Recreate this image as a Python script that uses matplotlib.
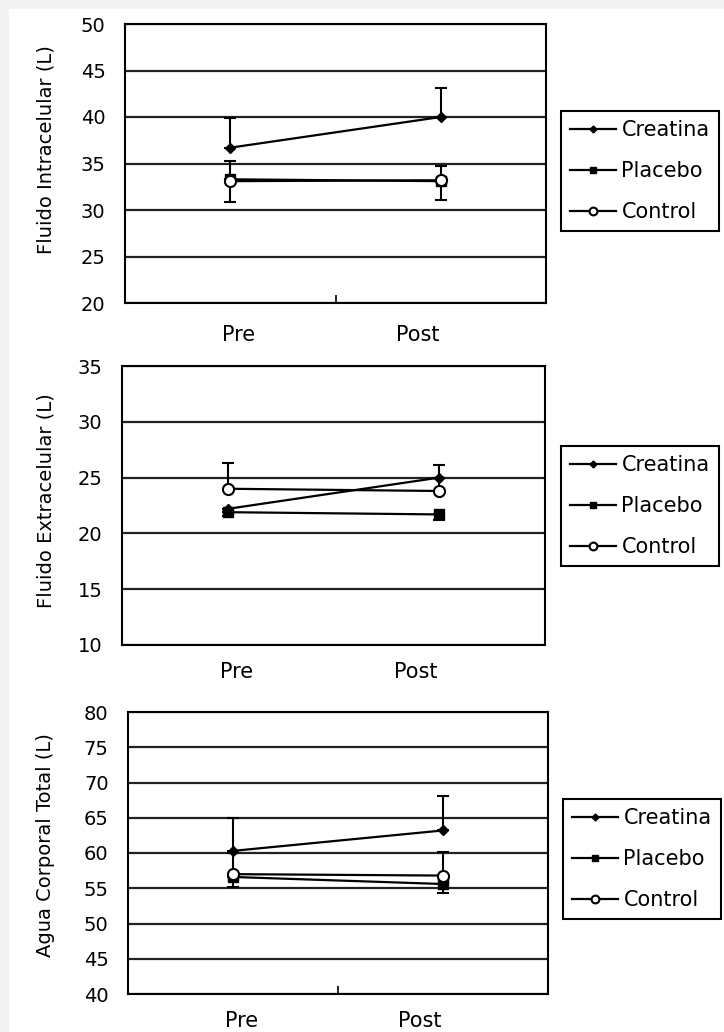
import matplotlib
matplotlib.use('Agg')
import matplotlib.pyplot as plt
from matplotlib.patches import Rectangle

plt.rcParams['font.family'] = ['DejaVu Sans']

# datos (L), Pre / Post
momentos = ['Pre', 'Post']
grupos = ['Creatina', 'Placebo', 'Control']

intra_creatina = [36.7, 40.0]
intra_placebo = [33.3, 33.1]
intra_control = [33.1, 33.2]
intra_err_creatina = [3.2, 3.1]   # solo hacia arriba
intra_err_placebo = [2.0, 1.6]    # solo hacia arriba
intra_err_control = [2.2, 2.1]    # solo hacia abajo

extra_creatina = [22.2, 25.0]
extra_placebo = [21.9, 21.7]
extra_control = [24.0, 23.8]
extra_err_creatina = [0.0, 0.0]
extra_err_placebo = [0.3, 0.5]
extra_err_control = [2.3, 2.3]

total_creatina = [60.3, 63.2]
total_placebo = [56.6, 55.6]
total_control = [57.0, 56.8]
total_err_creatina = [4.7, 4.9]
total_err_placebo = [1.4, 1.3]
total_err_control = [3.0, 3.3]

W, H = 724, 1032
fig = plt.figure(figsize=(W/100, H/100), dpi=100)
fig.patch.set_facecolor('#f3f3f3')
fig.patches.append(Rectangle((9/W, 0), 1, 1 - 9/H, transform=fig.transFigure,
                             facecolor='white', edgecolor='none', zorder=-10))

def px_axes(l, t, r, b):
    return fig.add_axes([l/W, 1 - b/H, (r - l)/W, (b - t)/H])

paneles = [
    dict(box=(125, 24, 546, 303), ylim=(20, 50), ylab='Fluido Intracelular (L)', ylab_y=150,
         leg=(561, 171), mid=True, xpad=16,
         vals=[intra_creatina, intra_placebo, intra_control],
         errs=[(intra_err_creatina, 'up'), (intra_err_placebo, 'up'), (intra_err_control, 'down')]),
    dict(box=(122, 366, 545, 645), ylim=(10, 35), ylab='Fluido Extracelular (L)', ylab_y=501,
         leg=(561, 506), mid=False, xpad=12,
         vals=[extra_creatina, extra_placebo, extra_control],
         errs=[(extra_err_creatina, 'up'), (extra_err_placebo, 'down'), (extra_err_control, 'up')]),
    dict(box=(128, 712, 548, 994), ylim=(40, 80), ylab='Agua Corporal Total (L)', ylab_y=845,
         leg=(563, 859), mid=True, xpad=12,
         vals=[total_creatina, total_placebo, total_control],
         errs=[(total_err_creatina, 'up'), (total_err_placebo, 'down'), (total_err_control, 'up')]),
]

estilos = [
    dict(marker='D', markersize=5, markerfacecolor='black'),
    dict(marker='s', markersize=7, markerfacecolor='black'),
    dict(marker='o', markersize=8, markerfacecolor='white', markeredgewidth=1.5),
]

x = [0.5, 1.5]
for p in paneles:
    ax = px_axes(*p['box'])
    ax.set_xlim(0, 2)
    ax.set_ylim(*p['ylim'])
    ax.set_yticks(range(p['ylim'][0], p['ylim'][1] + 1, 5))
    ax.yaxis.grid(True, color='#222222', linewidth=1.6)
    ax.set_axisbelow(True)
    ax.tick_params(axis='y', length=0, pad=14, labelsize=14)
    ax.set_xticks([0.54, 1.39])
    ax.set_xticklabels(momentos)
    ax.tick_params(axis='x', length=0, pad=p['xpad'], labelsize=15)
    if p['mid']:
        ax.set_xticks([1.0], minor=True)
        ax.tick_params(axis='x', which='minor', direction='in', length=6, width=1.2)
    for s in ax.spines.values():
        s.set_linewidth(1.5)
    for nombre, v, (e, lado), est in zip(grupos, p['vals'], p['errs'], estilos):
        yerr = [[0, 0], e] if lado == 'up' else [e, [0, 0]]
        ax.errorbar(x, v, yerr=yerr, color='black', linewidth=1.6, capsize=4,
                    elinewidth=1.5, capthick=1.5, markeredgecolor='black', label=nombre, **est)
    fig.text(46/W, 1 - p['ylab_y']/H, p['ylab'], rotation=90, ha='center', va='center', fontsize=14)
    h, l = ax.get_legend_handles_labels()
    h = [hh[0] for hh in h]
    leg = ax.legend(h, l, loc='center left', bbox_to_anchor=(p['leg'][0]/W, 1 - p['leg'][1]/H),
                    bbox_transform=fig.transFigure, fancybox=False, edgecolor='black',
                    framealpha=1, fontsize=15, borderaxespad=0, handlelength=2.2,
                    handletextpad=0.25, labelspacing=1.0, markerscale=0.7, borderpad=0.45)
    leg.get_frame().set_linewidth(1.5)

fig.savefig('out.png', dpi=100, facecolor=fig.get_facecolor())
